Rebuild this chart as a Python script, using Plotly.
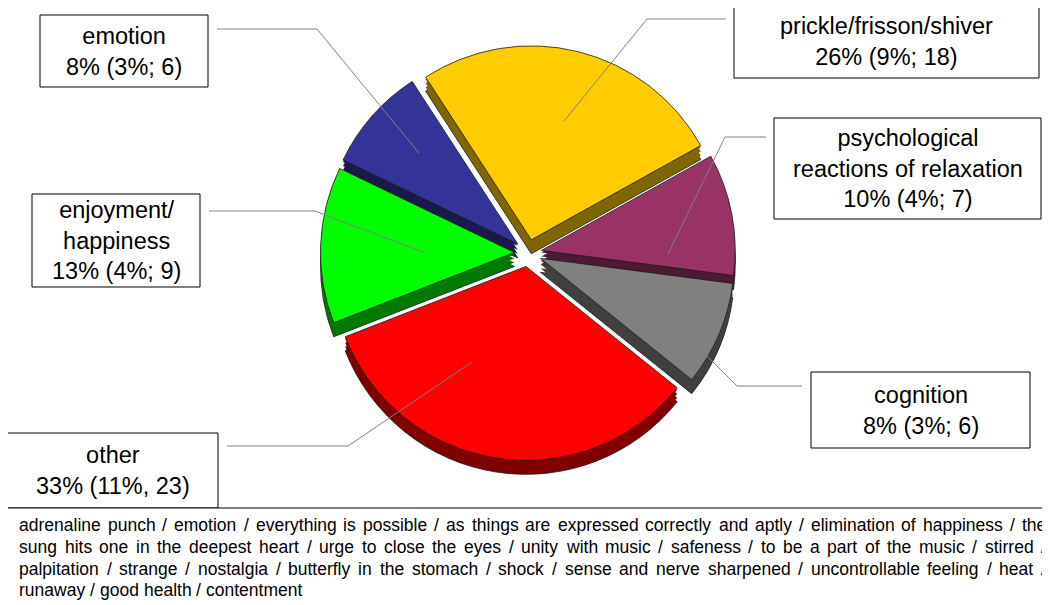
import plotly.graph_objects as go

# page body has an 8px margin: offset everything so it lands where the reference has it
OFF = 8
W, H = 1050 - OFF, 605 - OFF

# ---------------- data ----------------
categories = ["prickle/frisson/shiver", "psychological<br>reactions of relaxation", "cognition",
              "other", "enjoyment/<br>happiness", "emotion"]
counts = [18, 7, 6, 23, 9, 6]
share_pct = [26, 10, 8, 33, 13, 8]
sample_pct = [9, 4, 3, 11, 4, 3]
separators = ["; ", "; ", "; ", ", ", "; ", "; "]

colors_top = ["#FFCC00", "#993366", "#808080", "#FF0000", "#00FF00", "#333399"]
colors_side = ["#806600", "#4D1A33", "#404040", "#800000", "#007A00", "#1A1A4D"]

comment_lines = [
    "adrenaline punch / emotion / everything is possible / as things are expressed correctly and aptly / elimination of happiness / the",
    "sung hits one in the deepest heart / urge to close the eyes / unity with music / safeness / to be a part of the music / stirred /",
    "palpitation / strange / nostalgia / butterfly in the stomach / shock / sense and nerve sharpened / uncontrollable feeling / heat /",
    "runaway / good health / contentment",
]

# ---------------- layout helpers (window pixels -> paper) ----------------
def px(x):
    return (x - OFF) / W

def py(y):
    return 1 - (y - OFF) / H

FONT = "Liberation Sans, Arial, sans-serif"

# pie geometry (window pixels)
cx, cy, side = 528, 253, 415
depth = 14
pull = 0.07
rotation = -33

def pie_trace(shift, colors, lw, lc, labels):
    return go.Pie(
        values=counts, labels=labels, sort=False, direction="clockwise",
        rotation=rotation, pull=pull, textinfo="none", hoverinfo="skip",
        showlegend=False,
        marker=dict(colors=colors, line=dict(color=lc, width=lw)),
        domain=dict(x=[px(cx - side / 2), px(cx + side / 2)],
                    y=[py(cy + side / 2 + shift), py(cy - side / 2 + shift)]),
    )

fig = go.Figure()
# extruded sides (drawn from bottom to top)
for k, s in enumerate([depth, 10, 6, 2]):
    labels_k = [c + "\u200b" * (k + 1) for c in categories]
    fig.add_trace(pie_trace(s, colors_side, 0.8 if k == 0 else 0,
                            "#1a1a1a" if k == 0 else colors_side[0], labels_k))
# top face
fig.add_trace(pie_trace(0, colors_top, 0.8, "#1a1a1a", categories))

# ---------------- label boxes ----------------
boxes = [  # x0, y0, x1, y1 in window px
    (734, 6, 1039, 78),     # prickle
    (774, 118, 1041, 219),  # psychological
    (811, 372, 1030, 448),  # cognition
    (7, 433, 218, 508),     # other
    (32, 194, 200, 287),    # enjoyment
    (40, 15, 208, 87),      # emotion
]
leaders = [
    [(726, 19), (647, 19), (564, 121)],
    [(766, 137), (725, 137), (668, 254)],
    [(802, 386), (737, 386), (672, 321)],
    [(227, 446), (348, 446), (472, 362)],
    [(209, 211), (315, 211), (423, 252)],
    [(217, 29), (317, 29), (419, 153)],
]

shapes = []
annotations = []
for i, cat in enumerate(categories):
    x0, y0, x1, y1 = boxes[i]
    shapes.append(dict(type="rect", xref="paper", yref="paper",
                       x0=px(x0), x1=px(x1), y0=py(y1), y1=py(y0),
                       line=dict(color="#000000", width=1), fillcolor="white", layer="above"))
    pts = leaders[i]
    path = "M " + " L ".join(f"{px(a)},{py(b)}" for a, b in pts)
    shapes.append(dict(type="path", xref="paper", yref="paper", path=path,
                       line=dict(color="#808080", width=1), layer="above"))
    text = f"{cat}<br>{share_pct[i]}% ({sample_pct[i]}%{separators[i]}{counts[i]})"
    annotations.append(dict(xref="paper", yref="paper", x=px((x0 + x1) / 2), y=py((y0 + y1) / 2),
                            xanchor="center", yanchor="middle", showarrow=False, align="center",
                            text=text, font=dict(family=FONT, size=23.5, color="#000000")))

# bottom comment box
shapes.append(dict(type="rect", xref="paper", yref="paper",
                   x0=px(7), x1=px(1060), y0=py(615), y1=py(508),
                   line=dict(color="#000000", width=1.2), fillcolor="white", layer="above"))

# justified text lines (word placement using Arial metrics)
AW = {' ': 278, '/': 278, ',': 278, ';': 278, 'a': 556, 'b': 556, 'c': 500, 'd': 556, 'e': 556,
      'f': 278, 'g': 556, 'h': 556, 'i': 222, 'j': 222, 'k': 500, 'l': 222, 'm': 833, 'n': 556,
      'o': 556, 'p': 556, 'q': 556, 'r': 333, 's': 500, 't': 278, 'u': 556, 'v': 500, 'w': 722,
      'x': 500, 'y': 500, 'z': 500}
FS = 17.5
def tw(s):
    return sum(AW.get(ch, 556) for ch in s) / 1000 * FS

left, right = 17, 1044
line_y = [525, 547, 569, 590]
for li, line in enumerate(comment_lines):
    words = line.split(" ")
    if li < len(comment_lines) - 1:
        natural = sum(tw(w) for w in words)
        gap = (right - left - natural) / (len(words) - 1)
    else:
        gap = tw(" ")
    x = left
    for w in words:
        annotations.append(dict(xref="paper", yref="paper", x=px(x), y=py(line_y[li]),
                                xanchor="left", yanchor="middle", showarrow=False,
                                text=w, font=dict(family=FONT, size=FS, color="#000000")))
        x += tw(w) + gap

fig.update_layout(
    width=W, height=H, margin=dict(l=0, r=0, t=0, b=0),
    paper_bgcolor="white", plot_bgcolor="white",
    shapes=shapes, annotations=annotations, showlegend=False,
)

fig.write_html("out.html")
